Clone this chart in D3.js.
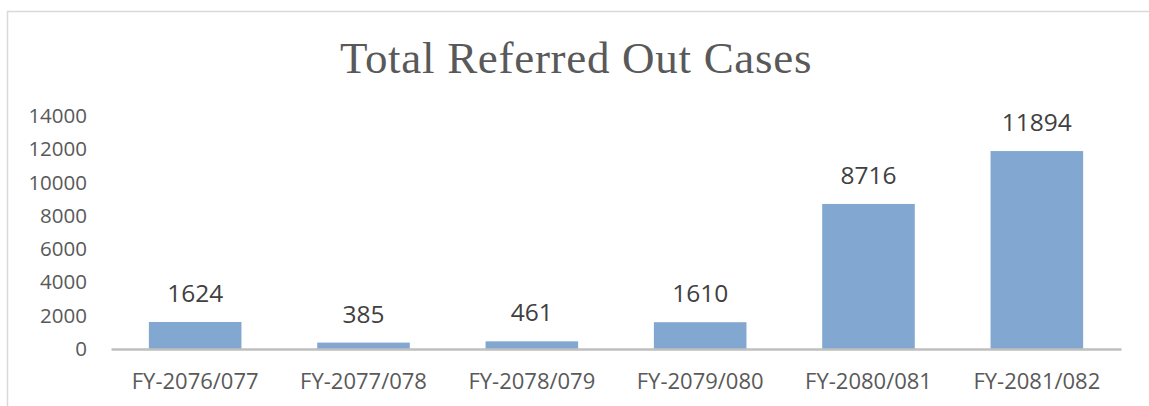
<!DOCTYPE html>
<html>
<head>
<meta charset="utf-8">
<script src="https://cdn.jsdelivr.net/npm/d3@7"></script>
<style>
  body { margin: 0; background: #fff; }
  svg { display: block; }
</style>
</head>
<body>
<svg width="1149" height="406"></svg>
<script>
const categories = ["FY-2076/077", "FY-2077/078", "FY-2078/079", "FY-2079/080", "FY-2080/081", "FY-2081/082"];
const cases = [1624, 385, 461, 1610, 8716, 11894];
const yTicks = [0, 2000, 4000, 6000, 8000, 10000, 12000, 14000];

const svg = d3.select("svg");
const margin = { top: 116, right: 28, bottom: 57, left: 111 };
const width = 1149;
const height = 406;

// chart frame (only top and left edges fall inside the picture)
svg.append("rect")
  .attr("x", 7.5)
  .attr("y", 11.5)
  .attr("width", 1200)
  .attr("height", 500)
  .attr("fill", "none")
  .attr("stroke", "#d9d9d9")
  .attr("stroke-width", 1.5);

svg.append("text")
  .attr("x", 576)
  .attr("y", 73)
  .attr("text-anchor", "middle")
  .attr("font-family", "Liberation Serif")
  .attr("font-size", 45)
  .attr("fill", "#595959")
  .attr("letter-spacing", 0.7)
  .text("Total Referred Out Cases");

const x = d3.scaleBand()
  .domain(categories)
  .range([margin.left, width - margin.right])
  .paddingInner(0.45)
  .paddingOuter(0.225);

const y = d3.scaleLinear()
  .domain([0, 14000])
  .range([height - margin.bottom, margin.top]);

const yAxis = svg.append("g")
  .attr("transform", `translate(${margin.left},0)`)
  .call(d3.axisLeft(y).tickValues(yTicks).tickFormat(d3.format("d")).tickSize(0).tickPadding(24));
yAxis.select(".domain").remove();
yAxis.selectAll("text")
  .attr("font-family", "Open Sans")
  .attr("font-size", 20.5)
  .attr("fill", "#595959");

svg.selectAll(".bar")
  .data(cases)
  .enter().append("rect")
  .attr("class", "bar")
  .attr("x", (d, i) => x(categories[i]))
  .attr("y", d => y(d))
  .attr("width", x.bandwidth())
  .attr("height", d => y(0) - y(d))
  .attr("fill", "#82a7d0");

svg.selectAll(".val")
  .data(cases)
  .enter().append("text")
  .attr("class", "val")
  .attr("x", (d, i) => x(categories[i]) + x.bandwidth() / 2)
  .attr("y", d => y(d) - 20)
  .attr("text-anchor", "middle")
  .attr("font-family", "Open Sans")
  .attr("font-size", 24.5)
  .attr("fill", "#404040")
  .text(d => d);

const xAxis = svg.append("g")
  .attr("transform", `translate(0,${y(0)})`)
  .call(d3.axisBottom(x).tickSize(0).tickPadding(24));
xAxis.select(".domain")
  .attr("stroke", "#bfbfbf")
  .attr("stroke-width", 2.5);
xAxis.selectAll("text")
  .attr("font-family", "Open Sans")
  .attr("font-size", 22)
  .attr("fill", "#595959");
</script>
</body>
</html>
